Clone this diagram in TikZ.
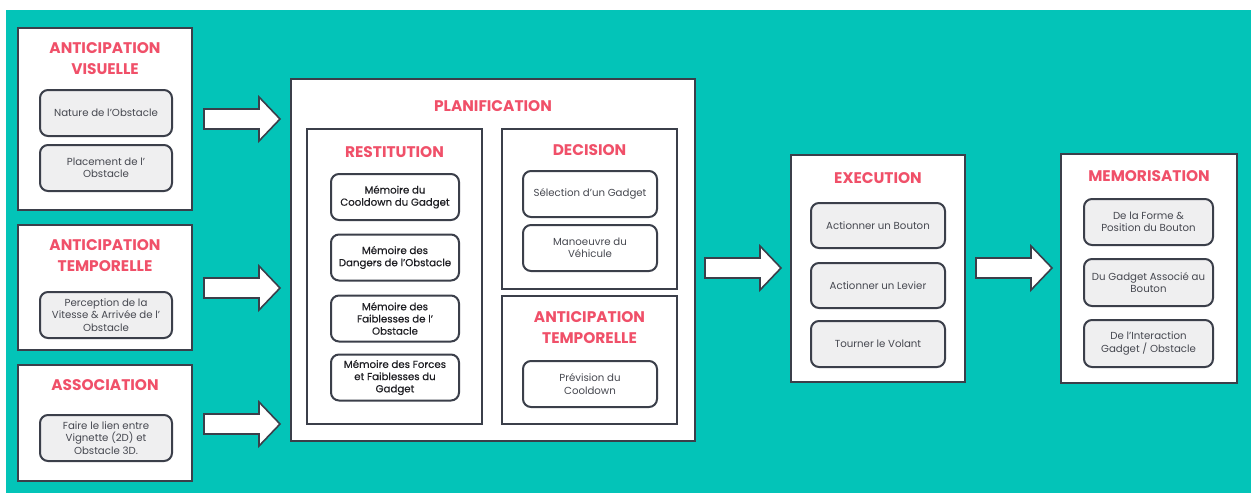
\documentclass[tikz,border=0pt]{standalone}
\usepackage{fontspec}
\setmainfont{Poppins}
\definecolor{teal}{RGB}{3,196,184}
\definecolor{edge}{RGB}{59,63,74}
\definecolor{title}{RGB}{240,80,105}
\definecolor{cellgray}{RGB}{239,239,240}
\definecolor{txt}{RGB}{70,72,80}
\definecolor{txtdark}{RGB}{30,30,35}
\tikzset{
  outer/.style={draw=edge, line width=2pt, fill=white, inner sep=0pt},
  ttl/.style={text=title, font=\fontsize{15.4}{21}\selectfont\bfseries, align=center, inner sep=0pt},
  cell/.style={draw=edge, line width=2pt, rounded corners=8pt, fill=cellgray, inner sep=0pt,
    text=txt, font=\fontsize{10.2}{12.2}\selectfont, align=center},
  wcell/.style={cell, fill=white},
  dcell/.style={cell, fill=white, text=txtdark, font=\fontsize{10.2}{12.2}\selectfont\addfontfeature{FakeBold=0.4}},
  arr/.style={draw=edge, line width=1.6pt, fill=white, line join=miter},
}
\newcommand{\blockarrow}[3]{%
  \draw[arr] (#1,{#3-10}) -- ({#2-21},{#3-10}) -- ({#2-21},{#3-22}) -- (#2,#3)
    -- ({#2-21},{#3+22}) -- ({#2-21},{#3+10}) -- (#1,{#3+10}) -- cycle;}
\begin{document}
\begin{tikzpicture}[x=1pt,y=-1pt]
\useasboundingbox (0,0) rectangle (1251,493);
\fill[white] (0,0) rectangle (1251,493);
\fill[teal] (6,10) rectangle (1251,493);

% ---------- left column ----------
\node[outer, minimum width=174, minimum height=182] (av) at (105,119) {};
\node[ttl] (avt) at (105,59) {ANTICIPATION\\VISUELLE};
\node[cell, minimum width=132, minimum height=46] (av1) at (106,113) {Nature de l'Obstacle};
\node[cell, minimum width=132, minimum height=46] (av2) at (106,168) {Placement de l'\\Obstacle};

\node[outer, minimum width=174, minimum height=125] (at) at (105,287.5) {};
\node[ttl] (att) at (105,255.5) {ANTICIPATION\\TEMPORELLE};
\node[cell, minimum width=132, minimum height=46] (at1) at (106,315) {Perception de la\\Vitesse \& Arrivée de l'\\Obstacle};

\node[outer, minimum width=174, minimum height=116] (as) at (105,423) {};
\node[ttl] (ast) at (105,385) {ASSOCIATION};
\node[cell, minimum width=132, minimum height=46] (as1) at (106,438) {Faire le lien entre\\Vignette (2D) et\\Obstacle 3D.};

% ---------- planification ----------
\node[outer, minimum width=404, minimum height=362] (pl) at (493,260) {};
\node[ttl] (plt) at (493,106) {PLANIFICATION};

\node[outer, minimum width=175, minimum height=295] (re) at (394.5,276.5) {};
\node[ttl] (ret) at (394.5,152) {RESTITUTION};
\node[dcell, minimum width=128, minimum height=46] (re1) at (395,197) {Mémoire du\\Cooldown du Gadget};
\node[dcell, minimum width=128, minimum height=46] (re2) at (395,257.5) {Mémoire des\\Dangers de l'Obstacle};
\node[dcell, minimum width=128, minimum height=46] (re3) at (395,318.5) {Mémoire des\\Faiblesses de l'\\Obstacle};
\node[dcell, minimum width=128, minimum height=46] (re4) at (395,377.5) {Mémoire des Forces\\et Faiblesses du\\Gadget};

\node[outer, minimum width=175, minimum height=160] (de) at (589.5,209) {};
\node[ttl] (det) at (589.5,150) {DECISION};
\node[wcell, minimum width=134, minimum height=46] (de1) at (590,194) {Sélection d'un Gadget};
\node[wcell, minimum width=134, minimum height=46] (de2) at (590,248) {Manoeuvre du\\Véhicule};

\node[outer, minimum width=175, minimum height=128] (ap) at (589.5,360) {};
\node[ttl] (apt) at (589.5,327.5) {ANTICIPATION\\TEMPORELLE};
\node[wcell, minimum width=134, minimum height=46] (ap1) at (590,384) {Prévision du\\Cooldown};

% ---------- execution ----------
\node[outer, minimum width=174, minimum height=227] (ex) at (878,268.5) {};
\node[ttl] (ext) at (878,178) {EXECUTION};
\node[cell, minimum width=134, minimum height=45] (ex1) at (878,225.5) {Actionner un Bouton};
\node[cell, minimum width=134, minimum height=45] (ex2) at (878,285.5) {Actionner un Levier};
\node[cell, minimum width=134, minimum height=46] (ex3) at (878,344) {Tourner le Volant};

% ---------- memorisation ----------
\node[outer, minimum width=176, minimum height=229] (me) at (1149,268.5) {};
\node[ttl] (met) at (1149,176.5) {MEMORISATION};
\node[cell, minimum width=129, minimum height=46] (me1) at (1148.5,222) {De la Forme \&\\Position du Bouton};
\node[cell, minimum width=129, minimum height=47] (me2) at (1148.5,282.5) {Du Gadget Associé au\\Bouton};
\node[cell, minimum width=129, minimum height=47] (me3) at (1148.5,343.5) {De l'Interaction\\Gadget / Obstacle};

% ---------- arrows ----------
\blockarrow{204}{280}{119}
\blockarrow{204}{280}{288}
\blockarrow{204}{280}{424}
\blockarrow{705}{781}{268}
\blockarrow{976}{1052}{268}
\end{tikzpicture}
\end{document}
